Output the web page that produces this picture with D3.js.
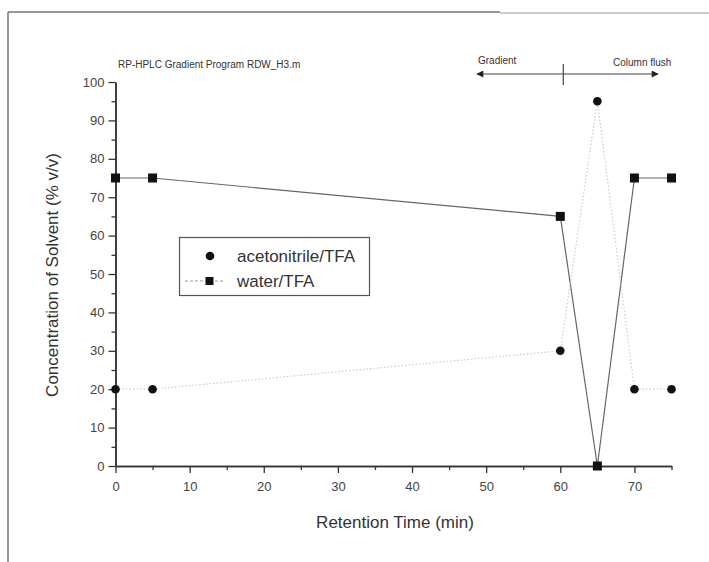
<!DOCTYPE html>
<html>
<head>
<style>
  body {
    margin: 0;
    background-color: #fff;
  }
  svg text {
    font-family: "Liberation Sans", Arial, sans-serif;
  }
</style>
<script src="https://d3js.org/d3.v7.min.js"></script>
</head>
<body>
<script>
// gradient program data
const time = [0, 5, 60, 65, 70, 75];
const acetonitrile = [20, 20, 30, 95, 20, 20];
const water = [75, 75, 65, 0, 75, 75];

const xTicks = [0, 10, 20, 30, 40, 50, 60, 70];
const yTicks = [0, 10, 20, 30, 40, 50, 60, 70, 80, 90, 100];
const seriesNames = ['acetonitrile/TFA', 'water/TFA'];

const width = 709;
const height = 562;

const svg = d3.select('body')
  .append('svg')
  .attr('width', width)
  .attr('height', height);

// page frame
svg.append('line')
  .attr('x1', 8).attr('y1', 12).attr('x2', 8).attr('y2', height)
  .attr('stroke', '#777').attr('stroke-width', 1.5);
svg.append('line')
  .attr('x1', 8).attr('y1', 12).attr('x2', 500).attr('y2', 12)
  .attr('stroke', '#777').attr('stroke-width', 1.5);
svg.append('line')
  .attr('x1', 500).attr('y1', 13).attr('x2', width).attr('y2', 13)
  .attr('stroke', '#bbb').attr('stroke-width', 1.5);

const x = d3.scaleLinear().domain([0, 75]).range([115.5, 671.5]);
const y = d3.scaleLinear().domain([0, 100]).range([466, 82]);

// axes
svg.append('g')
  .attr('transform', `translate(0,${y(0)})`)
  .call(d3.axisBottom(x).tickValues(xTicks).tickSize(7).tickPadding(9).tickSizeOuter(0));
svg.append('g')
  .attr('transform', `translate(0,${y(0)})`)
  .call(d3.axisBottom(x).tickValues(d3.range(5, 76, 10)).tickSize(4).tickFormat('').tickSizeOuter(0));

svg.append('g')
  .attr('transform', `translate(${x(0)},0)`)
  .call(d3.axisLeft(y).tickValues(yTicks).tickSize(7).tickPadding(4).tickSizeOuter(0));
svg.append('g')
  .attr('transform', `translate(${x(0)},0)`)
  .call(d3.axisLeft(y).tickValues(d3.range(5, 100, 10)).tickSize(4).tickFormat('').tickSizeOuter(0));

svg.selectAll('.domain').attr('stroke', '#333').attr('stroke-width', 1.5);
svg.selectAll('.tick line').attr('stroke', '#333').attr('stroke-width', 1.3);
svg.selectAll('.tick text')
  .attr('fill', '#444')
  .style('font-family', '"Liberation Sans", Arial, sans-serif')
  .style('font-size', '13px');

// axis titles
svg.append('text')
  .attr('x', 395).attr('y', 528)
  .attr('text-anchor', 'middle')
  .attr('fill', '#333')
  .style('font-size', '17px')
  .text('Retention Time (min)');

svg.append('text')
  .attr('transform', 'translate(58,275) rotate(-90)')
  .attr('text-anchor', 'middle')
  .attr('fill', '#333')
  .style('font-size', '17px')
  .text('Concentration of Solvent (% v/v)');

// lines
const points = (vals) => time.map((t, i) => [t, vals[i]]);
const line = d3.line().x(d => x(d[0])).y(d => y(d[1]));

svg.append('path')
  .datum(points(water))
  .attr('d', line)
  .attr('fill', 'none')
  .attr('stroke', '#666')
  .attr('stroke-width', 1.2);

svg.append('path')
  .datum(points(acetonitrile))
  .attr('d', line)
  .attr('fill', 'none')
  .attr('stroke', '#ccc')
  .attr('stroke-width', 1.2)
  .attr('stroke-dasharray', '1.5,2');

// markers
svg.selectAll('.sq')
  .data(points(water))
  .join('rect')
  .attr('x', d => x(d[0]) - 4.5)
  .attr('y', d => y(d[1]) - 4.5)
  .attr('width', 9)
  .attr('height', 9)
  .attr('fill', '#111');

svg.selectAll('.dot')
  .data(points(acetonitrile))
  .join('circle')
  .attr('cx', d => x(d[0]))
  .attr('cy', d => y(d[1]))
  .attr('r', 4.3)
  .attr('fill', '#111');

// annotations
svg.append('text')
  .attr('x', 118).attr('y', 68)
  .attr('fill', '#333')
  .style('font-size', '10px')
  .text('RP-HPLC Gradient Program RDW_H3.m');

svg.append('text')
  .attr('x', 478).attr('y', 64)
  .attr('fill', '#333')
  .style('font-size', '10px')
  .text('Gradient');

svg.append('text')
  .attr('x', 613).attr('y', 66)
  .attr('fill', '#333')
  .style('font-size', '10px')
  .text('Column flush');

const defs = svg.append('defs');
defs.append('marker')
  .attr('id', 'arrow')
  .attr('viewBox', '0 0 10 10')
  .attr('refX', 9).attr('refY', 5)
  .attr('markerWidth', 9).attr('markerHeight', 7)
  .attr('markerUnits', 'userSpaceOnUse')
  .attr('orient', 'auto-start-reverse')
  .append('path')
  .attr('d', 'M0,0L10,5L0,10Z')
  .attr('fill', '#222');

svg.append('line')
  .attr('x1', 477).attr('y1', 74).attr('x2', 658).attr('y2', 74)
  .attr('stroke', '#444').attr('stroke-width', 1.2)
  .attr('marker-start', 'url(#arrow)')
  .attr('marker-end', 'url(#arrow)');
svg.append('line')
  .attr('x1', x(60) + 3).attr('y1', 64).attr('x2', x(60) + 3).attr('y2', 85)
  .attr('stroke', '#444').attr('stroke-width', 1.2);

// legend
const legend = svg.append('g');
legend.append('rect')
  .attr('x', 179.5).attr('y', 237.5)
  .attr('width', 190).attr('height', 58)
  .attr('fill', '#fff')
  .attr('stroke', '#555')
  .attr('stroke-width', 1.2);

legend.append('circle')
  .attr('cx', 210).attr('cy', 256).attr('r', 4.3).attr('fill', '#111');
legend.append('line')
  .attr('x1', 185).attr('y1', 281).attr('x2', 223).attr('y2', 281)
  .attr('stroke', '#999').attr('stroke-width', 1)
  .attr('stroke-dasharray', '3,2');
legend.append('rect')
  .attr('x', 205.5).attr('y', 277).attr('width', 8).attr('height', 8).attr('fill', '#111');

legend.selectAll('.lbl')
  .data(seriesNames)
  .join('text')
  .attr('x', 237)
  .attr('y', (d, i) => 262 + i * 25)
  .attr('fill', '#333')
  .style('font-size', '17px')
  .text(d => d);
</script>
</body>
</html>
